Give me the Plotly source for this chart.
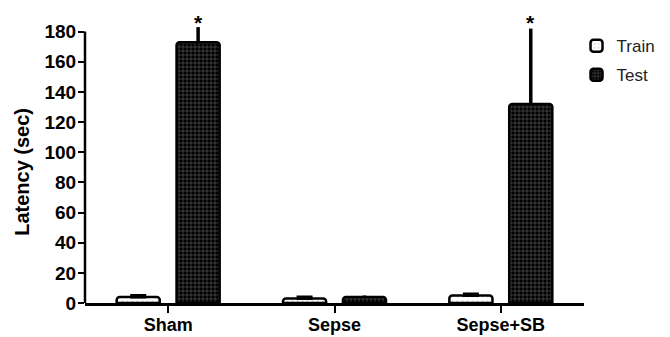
import plotly.graph_objects as go

categories = ["Sham", "Sepse", "Sepse+SB"]
train_values = [4, 3, 5]
train_errors = [1, 1, 1]
test_values = [173, 4, 132]
test_errors = [10, 1, 50]
significance = ["*", "", "*"]
y_ticks = [0, 20, 40, 60, 80, 100, 120, 140, 160, 180]
y_axis_top = 180

FONT = "Liberation Sans, Arial, sans-serif"
BARGAP = 0.28

fig = go.Figure()
fig.add_trace(go.Bar(
    name="Train", x=categories, y=train_values,
    error_y=dict(type="data", array=train_errors, arrayminus=[0] * len(train_errors), symmetric=False,
                 visible=True, color="black", thickness=3, width=8),
    marker=dict(color="white", line=dict(color="black", width=2.5), cornerradius=3,
                pattern=dict(shape=".", fgcolor="#999999", bgcolor="white", size=5, solidity=0.15)),
    legendgroup="a", cliponaxis=False,
))
fig.add_trace(go.Bar(
    name="Test", x=categories, y=test_values,
    error_y=dict(type="data", array=test_errors, arrayminus=[0] * len(test_errors), symmetric=False,
                 visible=True, color="black", thickness=3.5, width=0),
    marker=dict(color="black", line=dict(color="black", width=2.5), cornerradius=3,
                pattern=dict(shape="+", fgcolor="white", bgcolor="black", size=4, solidity=0.2)),
    legendgroup="b", cliponaxis=False,
))

offset = (1 - BARGAP) / 4
for i, s in enumerate(significance):
    if s:
        fig.add_annotation(x=i + offset, y=1, xref="x", yref="paper", text=s, showarrow=False,
                           yanchor="top", yshift=0,
                           font=dict(family=FONT, size=21, color="black", weight="bold"))

# y-axis title as annotation (centered like the reference)
fig.add_annotation(x=0, y=87, xref="paper", yref="y", text="Latency (sec)", textangle=-90,
                   showarrow=False, xanchor="center", yanchor="middle", xshift=-63,
                   font=dict(family=FONT, size=20, color="black", weight="bold"))

# y-axis line only up to the last tick
fig.add_shape(type="line", xref="paper", yref="y", x0=0, x1=0, y0=0, y1=y_axis_top,
              line=dict(color="black", width=2.5), layer="above")

fig.update_layout(
    width=670, height=337,
    margin=dict(l=77, r=94, t=1, b=42, autoexpand=False),
    plot_bgcolor="white", paper_bgcolor="white",
    barmode="group", bargap=BARGAP, bargroupgap=0.28,
    font=dict(family=FONT, color="black"),
    showlegend=True,
    legend=dict(x=0.985, y=0.935, xanchor="left", yanchor="top",
                font=dict(family=FONT, size=17, color="#222"),
                traceorder="grouped", tracegroupgap=4, bgcolor="rgba(0,0,0,0)"),
)
fig.update_xaxes(
    range=[-0.5, 2.5], showline=True, linecolor="black", linewidth=2.5,
    ticks="outside", ticklen=7, tickwidth=2, tickcolor="black",
    tickfont=dict(family=FONT, size=18, weight="bold", color="black"),
    ticklabelstandoff=-3,
    showgrid=False, zeroline=False, automargin=False,
)
fig.update_yaxes(
    range=[0, 195], tickvals=y_ticks, showline=False,
    ticks="outside", ticklen=6, tickwidth=2, tickcolor="black",
    tickfont=dict(family=FONT, size=19, weight="bold", color="black"),
    ticklabelstandoff=-2,
    showgrid=False, zeroline=False, automargin=False,
)

fig.write_html("out.html")
